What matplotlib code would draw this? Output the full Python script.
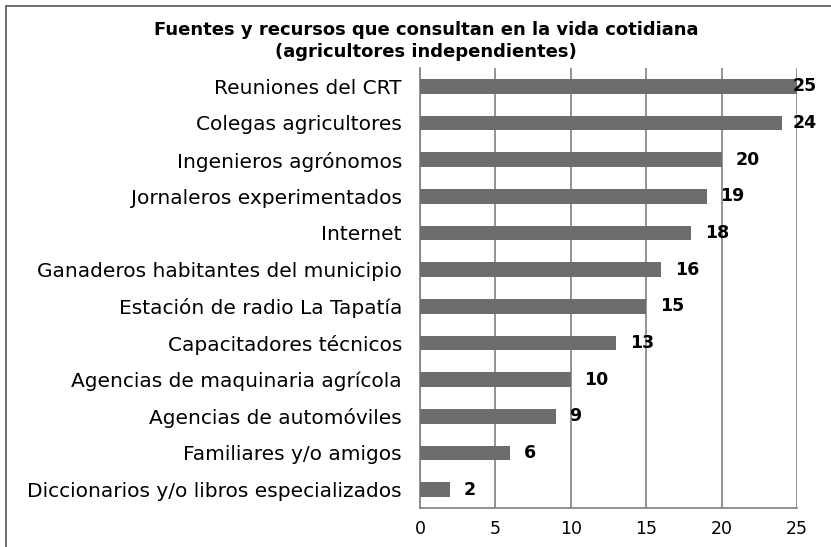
import numpy as np
import matplotlib.pyplot as plt
from matplotlib.patches import Rectangle

# datos
fuentes = ['Reuniones del CRT', 'Colegas agricultores', 'Ingenieros agrónomos',
           'Jornaleros experimentados', 'Internet',
           'Ganaderos habitantes del municipio', 'Estación de radio La Tapatía',
           'Capacitadores técnicos', 'Agencias de maquinaria agrícola',
           'Agencias de automóviles', 'Familiares y/o amigos',
           'Diccionarios y/o libros especializados']
valores = [25, 24, 20, 19, 18, 16, 15, 13, 10, 9, 6, 2]
ticks_x = [0, 5, 10, 15, 20, 25]

figura = plt.figure(figsize=(8.31, 5.47), dpi=100)
lienzo = figura.add_axes([420/831, 1 - 508/547, 377/831, 440/547])

pos = np.arange(len(fuentes))[::-1]
lienzo.barh(pos, valores, height=0.4, color='#6d6d6d', zorder=3)

for p, v in zip(pos, valores):
    lienzo.text(min(v + 0.9, 24.73), p, str(v), ha='left', va='center',
                fontsize=12.5, fontweight='bold', zorder=4)

lienzo.set_xlim(0, 25)
lienzo.set_ylim(-0.5, len(fuentes) - 0.5)
lienzo.set_xticks(ticks_x)
lienzo.set_yticks(pos)
lienzo.set_yticklabels(fuentes, fontsize=14.5)
lienzo.tick_params(axis='x', labelsize=12.5, length=0, pad=9)
lienzo.tick_params(axis='y', length=0, pad=13)
lienzo.xaxis.grid(True, color='#808080', linewidth=1.2, zorder=0)
for lado in ['top', 'right']:
    lienzo.spines[lado].set_visible(False)
for lado in ['left', 'bottom']:
    lienzo.spines[lado].set_color('#808080')
    lienzo.spines[lado].set_linewidth(1.2)

figura.text(426/831, 1 - 41/547,
            'Fuentes y recursos que consultan en la vida cotidiana\n(agricultores independientes)',
            ha='center', va='center', fontsize=13, fontweight='bold', linespacing=1.35)

# marco exterior
marco = Rectangle((6/831, -0.1), 1.0, 1 - 6/547 + 0.1, transform=figura.transFigure,
                  fill=False, edgecolor='#555555', linewidth=1.2)
figura.patches.append(marco)

figura.savefig('out.png', dpi=100)
